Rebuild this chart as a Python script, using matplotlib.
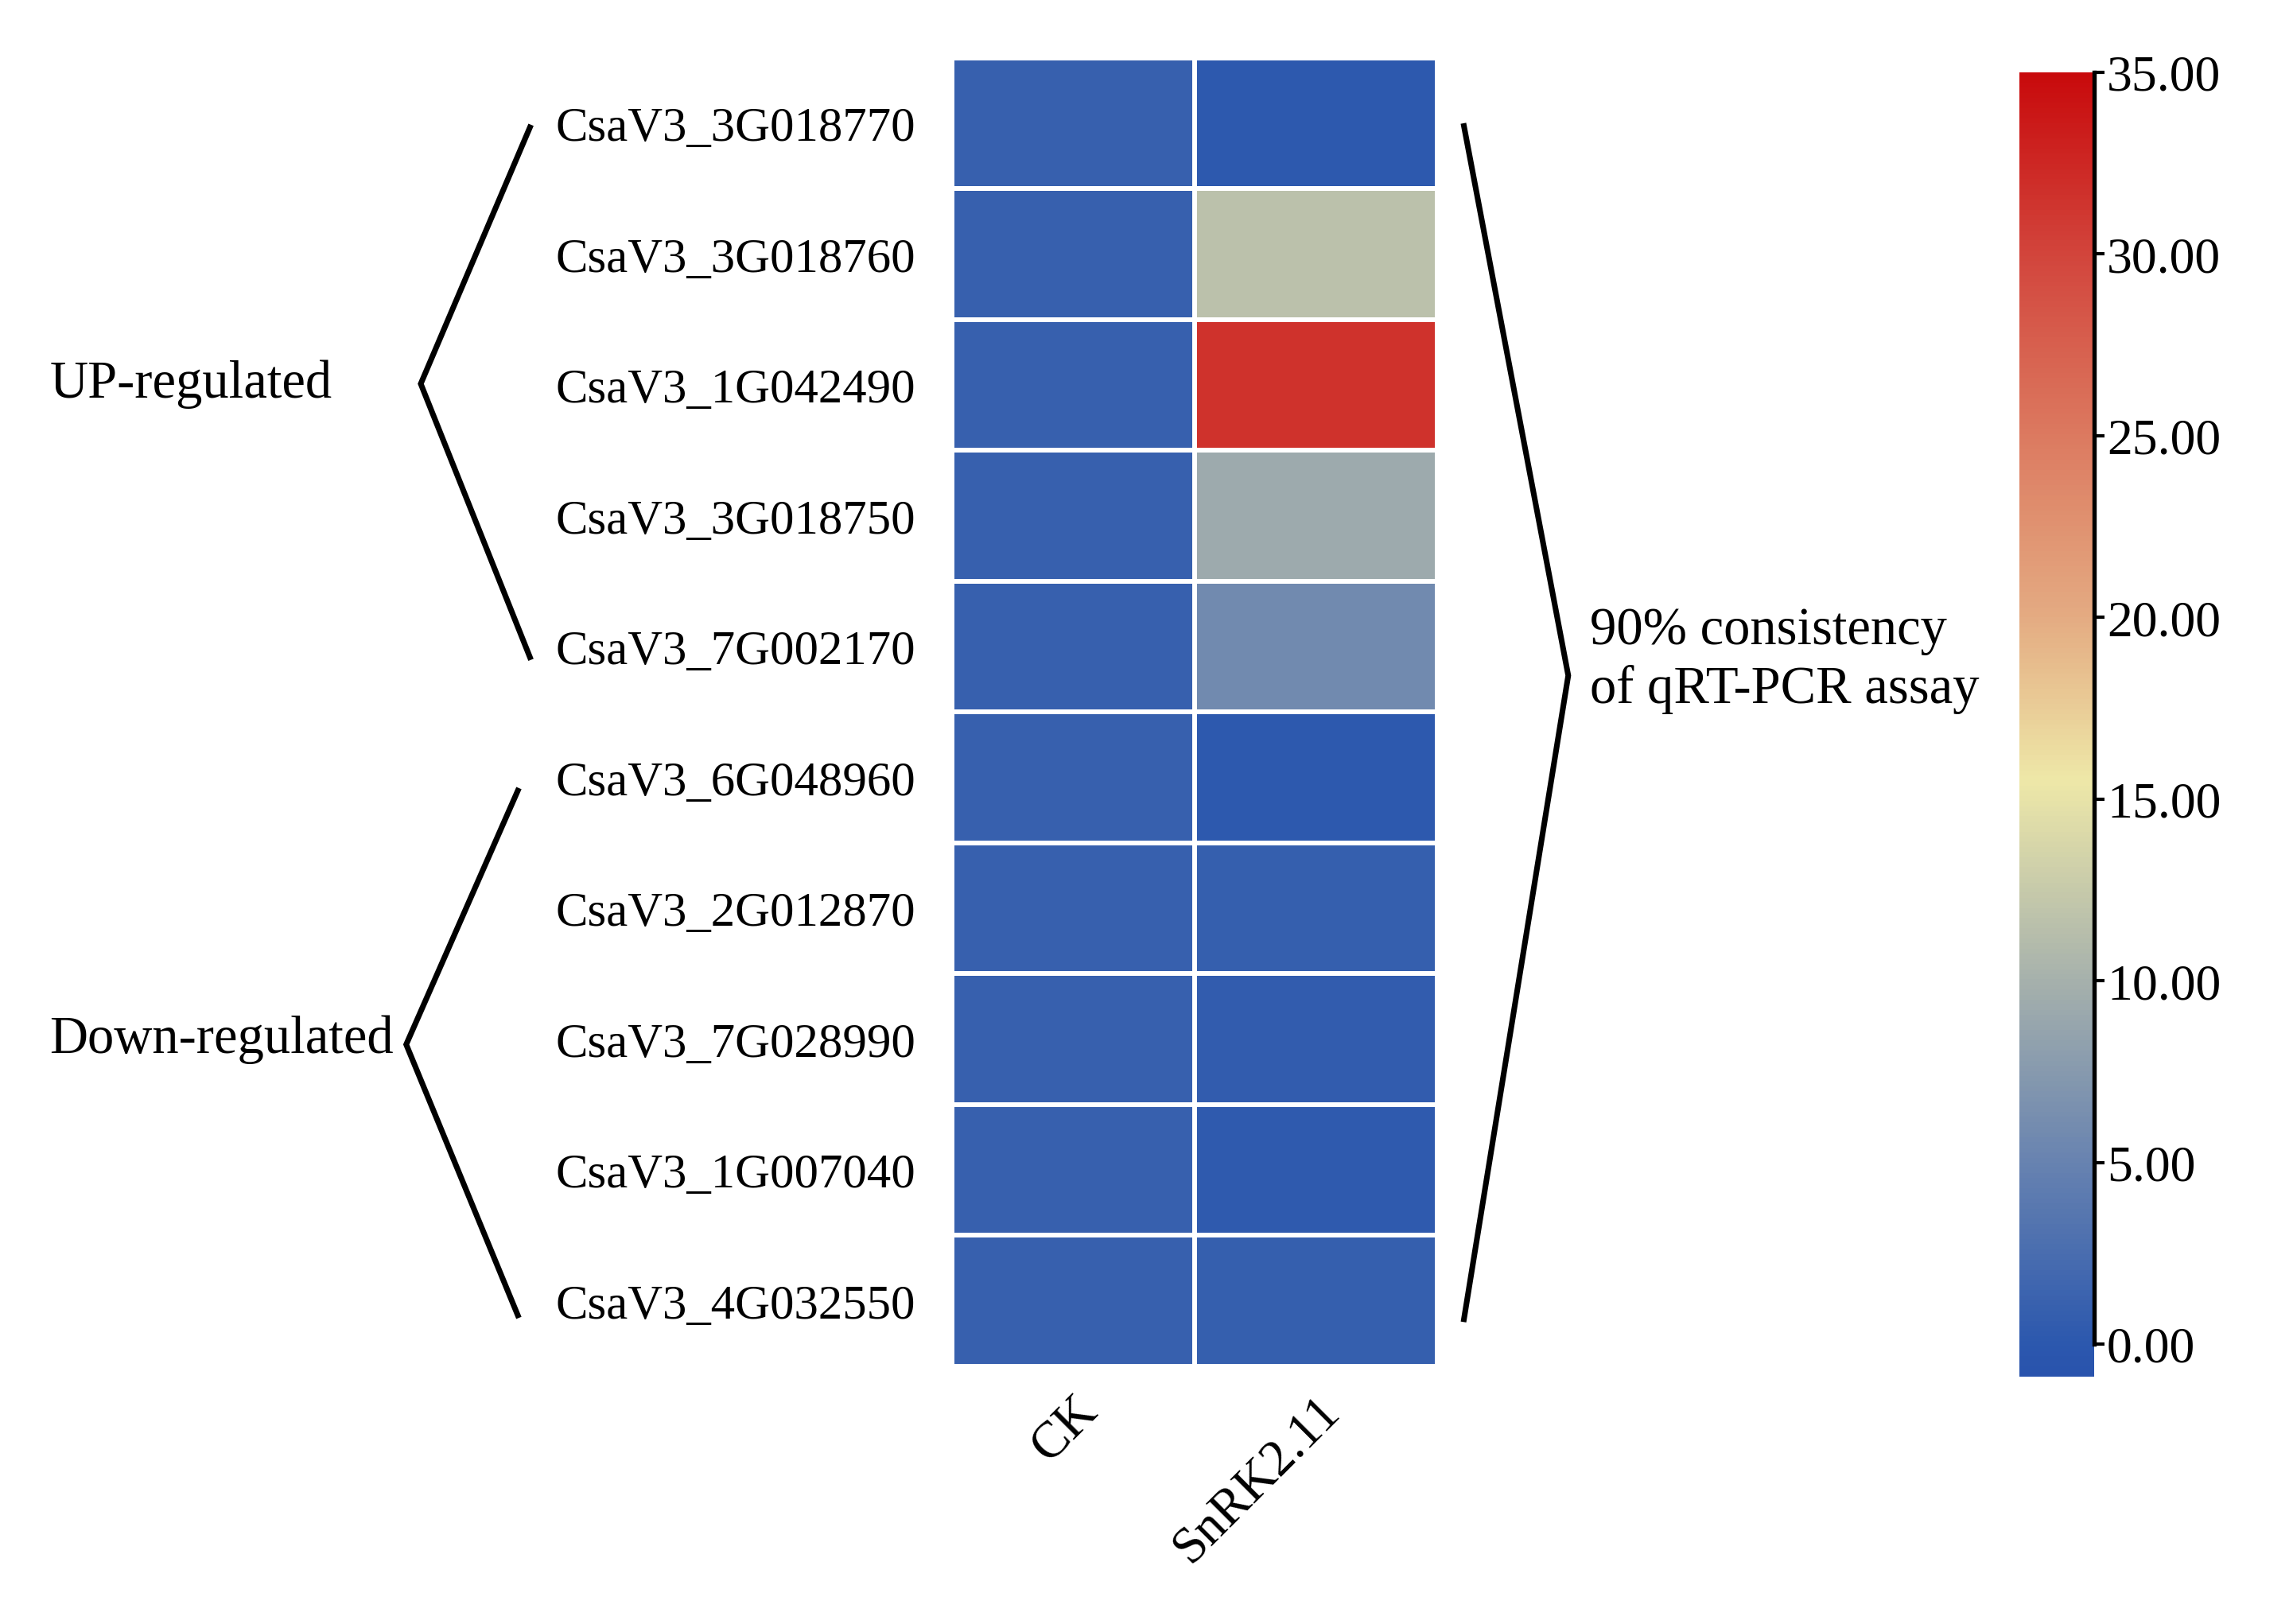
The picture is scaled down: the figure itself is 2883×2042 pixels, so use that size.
#!/usr/bin/env python3
# -*- coding: utf-8 -*-
# ============================================================================
# Heatmap of qRT-PCR relative expression (CK vs SnRK2.11)
# ----------------------------------------------------------------------------
# Description :
#   Two-column heatmap of ten cucumber genes, grouped in UP-regulated and
#   Down-regulated brackets, with a vertical colour bar on the right.
# ============================================================================

# -----------------------------------------------------------------------------
# Import
# -----------------------------------------------------------------------------

import matplotlib
matplotlib.use("Agg")
import matplotlib.pyplot as plt
import numpy as np
from matplotlib.colors import LinearSegmentedColormap, Normalize
from matplotlib.transforms import blended_transform_factory

# -----------------------------------------------------------------------------
# Data
# -----------------------------------------------------------------------------

GENES = [
    "CsaV3_3G018770",
    "CsaV3_3G018760",
    "CsaV3_1G042490",
    "CsaV3_3G018750",
    "CsaV3_7G002170",
    "CsaV3_6G048960",
    "CsaV3_2G012870",
    "CsaV3_7G028990",
    "CsaV3_1G007040",
    "CsaV3_4G032550",
]
SAMPLES = ["CK", "SnRK2.11"]
CK_VALUES = [1.0, 1.0, 1.0, 1.0, 1.0, 1.0, 1.0, 1.0, 1.0, 1.0]
SNRK_VALUES = [0.2, 11.6, 31.5, 9.3, 5.7, 0.2, 0.9, 0.6, 0.3, 0.8]

GROUP_LABELS = ["UP-regulated", "Down-regulated"]
GROUP_ROWS = [(0, 4), (5, 9)]
SUMMARY_LABEL = "90% consistency\nof qRT-PCR assay"

CBAR_TICKS = [0, 5, 10, 15, 20, 25, 30, 35]

# -----------------------------------------------------------------------------
# Style parameters
# -----------------------------------------------------------------------------

DPI = 300
FIG_W = 2883 / DPI
FIG_H = 2043 / DPI
FONT_SIZE = 14.6
LABEL_SIZE = 16.0
CBAR_SIZE = 15.3
VMIN, VMAX = -0.9, 35.0

CMAP_NODES = [
    (VMIN, "#2953ad"),
    (0.0, "#2c58ae"),
    (5.0, "#6883b0"),
    (10.0, "#a6b1ac"),
    (15.5, "#eee8a8"),
    (20.0, "#e4ab82"),
    (25.0, "#dc7a60"),
    (30.0, "#d2453c"),
    (VMAX, "#c80a0c"),
]

plt.rcParams["font.family"] = ["Liberation Serif", "DejaVu Serif"]
plt.rcParams["font.size"] = FONT_SIZE


# -----------------------------------------------------------------------------
# Function : build_cmap
# Description :
#   Build the blue - grey - yellow - red colour map from value nodes.
# -----------------------------------------------------------------------------
def build_cmap() -> LinearSegmentedColormap:
    pos = [(v - VMIN) / (VMAX - VMIN) for v, _ in CMAP_NODES]
    cols = [c for _, c in CMAP_NODES]
    return LinearSegmentedColormap.from_list("qpcr", list(zip(pos, cols)))


# -----------------------------------------------------------------------------
# Function : draw_bracket
# Description :
#   Draw a "<" or ">" shaped bracket in data coordinates of the heatmap.
# -----------------------------------------------------------------------------
def draw_bracket(ax, x_end, x_tip, y_top, y_tip, y_bot) -> None:
    ax.plot([x_end, x_tip, x_end], [y_top, y_tip, y_bot],
            color="black", lw=1.7, clip_on=False, solid_joinstyle="miter")


# -----------------------------------------------------------------------------
# Function : main
# -----------------------------------------------------------------------------
def main() -> None:
    data = np.column_stack([CK_VALUES, SNRK_VALUES])
    cmap = build_cmap()
    norm = Normalize(vmin=VMIN, vmax=VMAX)

    fig = plt.figure(figsize=(FIG_W, FIG_H), dpi=DPI)
    ax = fig.add_axes([0.4152, 0.1586, 0.2116, 0.8052])

    ax.pcolormesh(data, cmap=cmap, norm=norm, edgecolor="white", linewidth=1.0)
    ax.set_xlim(0, len(SAMPLES))
    ax.set_ylim(len(GENES), 0)
    for s in ax.spines.values():
        s.set_visible(False)

    ax.set_yticks(np.arange(len(GENES)) + 0.5)
    ax.set_yticklabels(GENES)
    ax.set_xticks(np.arange(len(SAMPLES)) + 0.5)
    ax.set_xticklabels(SAMPLES, rotation=45, ha="right", va="top",
                       rotation_mode="anchor", fontsize=15.5)
    ax.tick_params(axis="y", length=0, pad=11)
    ax.tick_params(axis="x", length=0, pad=6)

    # group brackets on the left
    (u0, u1), (d0, d1) = GROUP_ROWS
    draw_bracket(ax, -1.74, -2.19, u0 + 0.53, (u0 + u1) / 2 + 0.49, u1 + 0.58)
    draw_bracket(ax, -1.79, -2.25, d0 + 0.60, (d0 + d1) / 2 + 0.54, d1 + 0.61)
    ax.text(-3.72, (u0 + u1) / 2 + 0.49, GROUP_LABELS[0], ha="left",
            va="center", fontsize=LABEL_SIZE)
    ax.text(-3.72, (d0 + d1) / 2 + 0.50, GROUP_LABELS[1], ha="left",
            va="center", fontsize=LABEL_SIZE)

    # summary bracket on the right
    draw_bracket(ax, 2.11, 2.54, 0.52, 4.72, 9.64)
    ax.text(2.63, 4.6, SUMMARY_LABEL, ha="left", va="center",
            linespacing=1.25, fontsize=LABEL_SIZE)

    # colour bar
    cax = fig.add_axes([0.8807, 0.1522, 0.0326, 0.8028])
    sm = plt.cm.ScalarMappable(norm=norm, cmap=cmap)
    cbar = fig.colorbar(sm, cax=cax, ticks=CBAR_TICKS)
    cbar.ax.set_yticklabels([f"{t:.2f}" for t in CBAR_TICKS], fontsize=CBAR_SIZE)
    cbar.outline.set_visible(False)
    cbar.ax.tick_params(length=3, width=1.0, pad=0.8)
    tr = blended_transform_factory(cbar.ax.transAxes, cbar.ax.transData)
    cbar.ax.plot([1, 1], [CBAR_TICKS[0], CBAR_TICKS[-1]], color="black",
                 lw=1.3, transform=tr, clip_on=False)

    fig.savefig("out.png", dpi=DPI, facecolor="white")


# -----------------------------------------------------------------------------
# Entry point
# -----------------------------------------------------------------------------

if __name__ == "__main__":
    main()

# end of file
